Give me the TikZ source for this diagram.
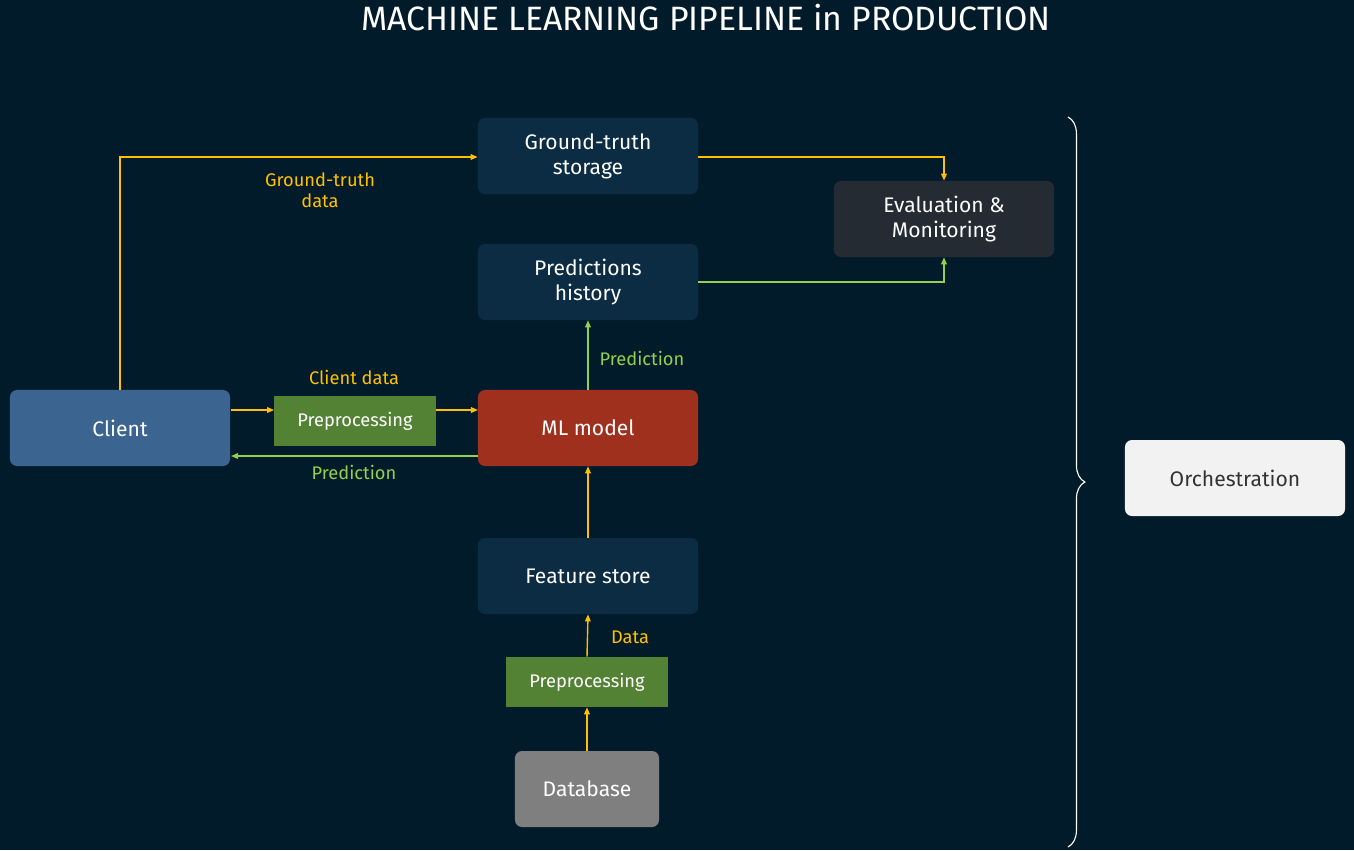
\documentclass[tikz,border=0pt]{standalone}
\usepackage{fontspec}
\setmainfont{Fira Sans}
\usetikzlibrary{arrows.meta,decorations.pathreplacing}
\definecolor{bg}{HTML}{021B2A}
\definecolor{boxc}{HTML}{0B2C42}
\definecolor{evalc}{HTML}{252B33}
\definecolor{clientc}{HTML}{3B6490}
\definecolor{prepc}{HTML}{548235}
\definecolor{mlc}{HTML}{A0301E}
\definecolor{dbc}{HTML}{7F7F7F}
\definecolor{orc}{HTML}{F2F2F2}
\definecolor{yel}{HTML}{FFC000}
\definecolor{grn}{HTML}{92D050}
\begin{document}
\begin{tikzpicture}[x=0.025cm,y=-0.025cm,
 box/.style={rounded corners=5pt,minimum width=5.5cm,minimum height=1.9cm,align=center,text=white,font=\fontsize{15}{18}\selectfont,fill=boxc},
 prep/.style={fill=prepc,minimum width=4.03cm,minimum height=1.25cm,text=white,font=\fontsize{13}{15}\selectfont},
 ya/.style={yel,line width=1pt,-{Triangle[length=5pt,width=4pt]}},
 ga/.style={grn,line width=1pt,-{Triangle[length=5pt,width=4pt]}},
 yl/.style={text=yel,font=\fontsize{13}{15}\selectfont,align=center},
 gl/.style={text=grn,font=\fontsize{13}{15}\selectfont,align=center}]
\fill[bg] (0,0) rectangle (1354,850);
\useasboundingbox (0,0) rectangle (1354,850);
\node (title) at (706,18) [text=white,font=\fontsize{24}{28}\selectfont] {MACHINE LEARNING PIPELINE in PRODUCTION};
\node[box] (gt) at (588,156) {Ground-truth\\storage};
\node[box,fill=evalc] (ev) at (944,219) {Evaluation \&\\Monitoring};
\node[box] (ph) at (588,282) {Predictions\\history};
\node[box,fill=clientc] (cl) at (120,428) {Client};
\node[prep] (p1) at (355,421) {Preprocessing};
\node[box,fill=mlc] (ml) at (588,428) {ML model};
\node[box] (fs) at (588,576) {Feature store};
\node[prep] (p2) at (587,682) {Preprocessing};
\node[box,fill=dbc,minimum width=3.6cm] (db) at (587,789) {Database};
\node[box,fill=orc,text=black!80] (or) at (1235,478) {Orchestration};
\draw[white,line width=0.8pt,decorate,decoration={brace,amplitude=12pt}] (1068,117) -- (1068,847);
\coordinate (c1) at (120,157);
\draw[ya] (cl.north) -- (c1) -- (gt.west |- c1);
\node[yl] (l1) at (320,190) {Ground-truth\\data};
\coordinate (c2) at (944,157);
\draw[ya] (gt.east |- c2) -- (c2) -- (ev.north);
\coordinate (c3) at (944,282);
\draw[ga] (ph.east) -- (c3) -- (ev.south);
\draw[ga] (ml.north) -- (ph.south);
\node[gl] (l2) at (642,358) {Prediction};
\coordinate (c4) at (231,410);
\coordinate (c5) at (478,410);
\draw[ya] (c4) -- (p1.west |- c4);
\draw[ya] (p1.east |- c5) -- (c5);
\node[yl] (l3) at (354,377) {Client data};
\coordinate (c6) at (478,456);
\coordinate (c7) at (231,456);
\draw[ga] (c6) -- (c7);
\node[gl] (l4) at (354,472) {Prediction};
\draw[ya] (fs.north) -- (ml.south);
\draw[ya] (p2.north) -- (fs.south);
\node[yl] (l5) at (630,637) {Data};
\draw[ya] (db.north) -- (p2.south);
\end{tikzpicture}
\end{document}
